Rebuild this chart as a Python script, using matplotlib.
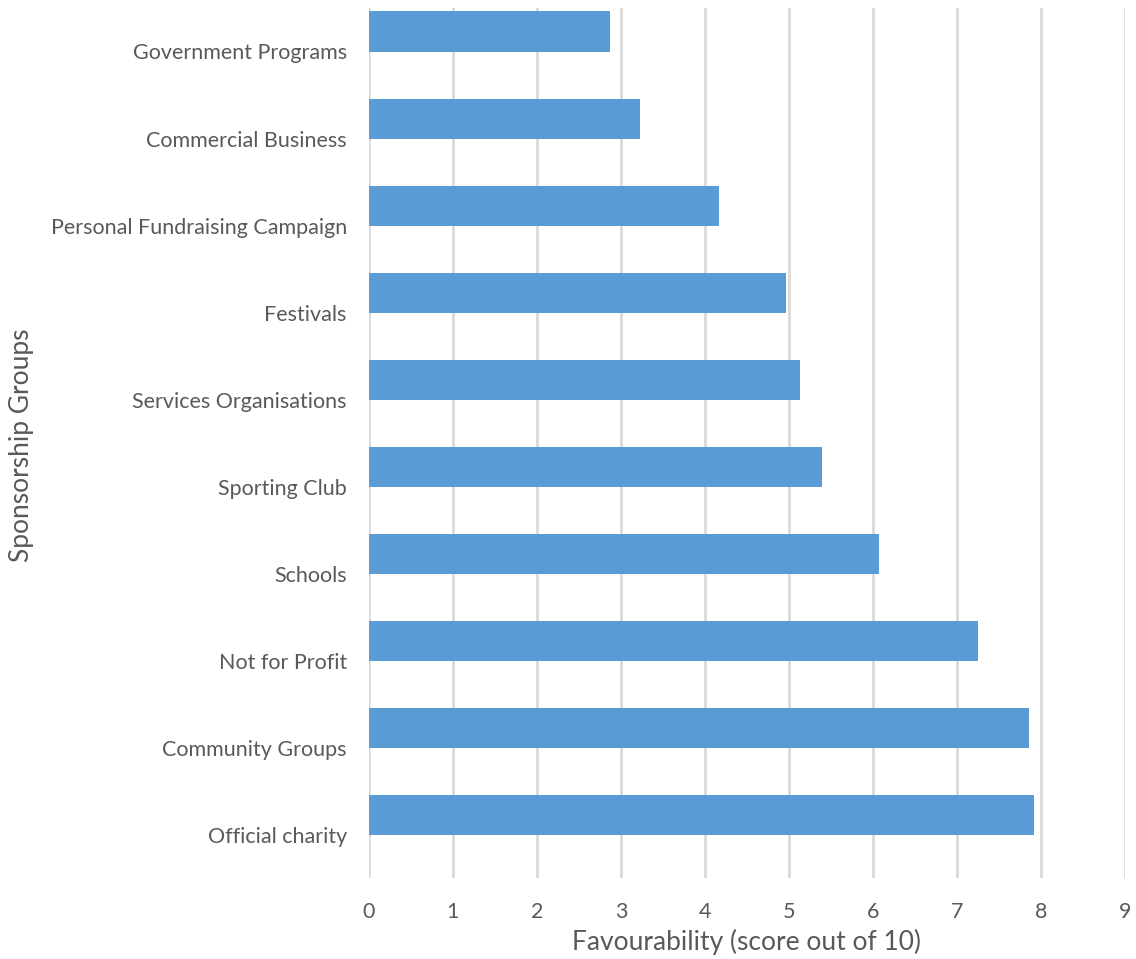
import matplotlib
matplotlib.use('Agg')
import matplotlib.pyplot as plt
import matplotlib.transforms as mtransforms

# data, top to bottom as it reads in the chart
groups = ['Government Programs', 'Commercial Business', 'Personal Fundraising Campaign',
          'Festivals', 'Services Organisations', 'Sporting Club', 'Schools',
          'Not for Profit', 'Community Groups', 'Official charity']
scores = [2.87, 3.23, 4.17, 4.97, 5.13, 5.39, 6.07, 7.25, 7.86, 7.92]
xticks = [0, 1, 2, 3, 4, 5, 6, 7, 8, 9]

plt.rcParams['font.family'] = ['Lato', 'DejaVu Sans']
grey = '#595959'

fig = plt.figure(figsize=(11.36, 9.59), dpi=100)
ax = fig.add_axes([0.3248, 0.0845, 0.6655, 0.9072])

pos = list(range(len(groups)))[::-1]
ax.barh(pos, scores, height=0.46, color='#5B9BD5', zorder=3)

ax.set_xlim(0, 9)
ax.set_ylim(-0.72, 9.27)
ax.set_xticks(xticks)
ax.set_yticks(pos)
ax.set_yticklabels(groups)
ax.grid(axis='x', color='#D9D9D9', linewidth=2, zorder=0)
for s in ax.spines.values():
    s.set_visible(False)
ax.tick_params(axis='both', length=0, labelsize=15.5, labelcolor=grey)
ax.tick_params(axis='y', pad=16)
ax.tick_params(axis='x', pad=17)

# the category labels sit a little below the bar centres in the original
shift = mtransforms.ScaledTranslation(0, -0.2, fig.dpi_scale_trans)
for lbl in ax.get_yticklabels():
    lbl.set_transform(lbl.get_transform() + shift)

ax.set_xlabel('Favourability (score out of 10)', fontsize=19, color=grey, va='center')
ax.set_ylabel('Sponsorship Groups', fontsize=19, color=grey, va='center')
ax.xaxis.set_label_coords(0.499, -0.0736)
ax.yaxis.set_label_coords(-0.459, 0.497)

fig.savefig('out.png', dpi=100, facecolor='white')
